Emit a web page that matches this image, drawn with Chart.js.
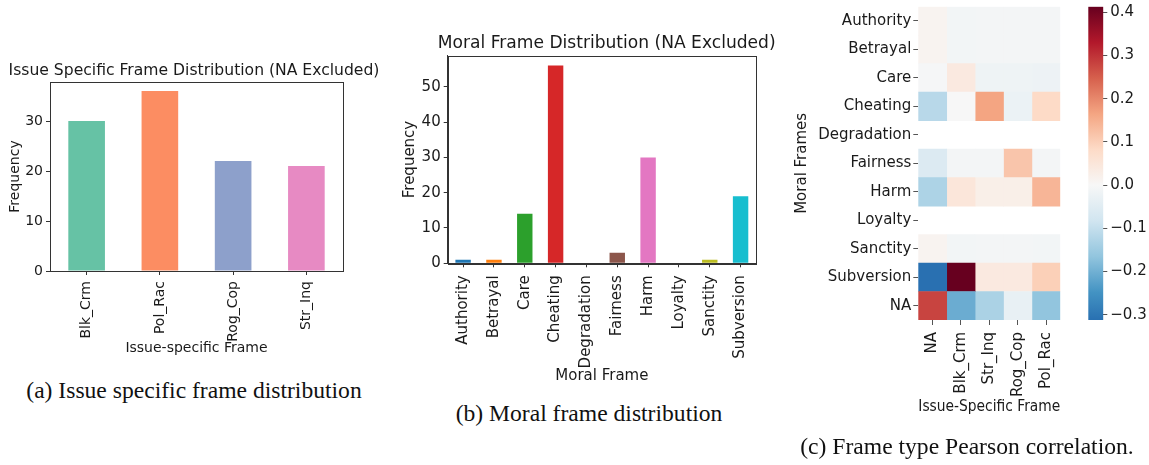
<!DOCTYPE html>
<html>
<head>
<meta charset="utf-8">
<script src="https://cdn.jsdelivr.net/npm/chart.js@4.4.1/dist/chart.umd.min.js"></script>
<style>
body { margin:0; background:#fff; width:1149px; height:465px; position:relative; overflow:hidden; }
canvas { position:absolute; }
.cap { position:absolute; font-family:"Liberation Serif", "Times New Roman", serif; font-size:23.6px; color:#111; white-space:nowrap; transform:translateX(-50%); line-height:26px; }
</style>
</head>
<body>
<canvas id="issueChart" width="388" height="310" style="left:0;top:50px"></canvas>
<canvas id="moralChart" width="433" height="380" style="left:390px;top:20px"></canvas>
<canvas id="corrChart" width="290" height="420" style="left:780px;top:0"></canvas>
<canvas id="cbarChart" width="79" height="420" style="left:1070px;top:0"></canvas>
<div class="cap" style="left:194px;top:377px">(a) Issue specific frame distribution</div>
<div class="cap" style="left:589px;top:400px">(b) Moral frame distribution</div>
<div class="cap" style="left:967px;top:433px">(c) Frame type Pearson correlation.</div>
<script>
// issue specific frames
const issueLabels = ["Blk_Crm", "Pol_Rac", "Rog_Cop", "Str_Inq"]
const issueCounts = [30, 36, 22, 21]
const issueColors = ["#66c2a5", "#fc8d62", "#8da0cb", "#e78ac3"]
const issueTicks = [0, 10, 20, 30]

// moral frames
const moralLabels = ["Authority", "Betrayal", "Care", "Cheating", "Degradation", "Fairness", "Harm", "Loyalty", "Sanctity", "Subversion"]
const moralCounts = [1, 1, 14, 56, 0, 3, 30, 0, 1, 19]
const moralColors = ["#1f77b4", "#ff7f0e", "#2ca02c", "#d62728", "#9467bd", "#8c564b", "#e377c2", "#7f7f7f", "#bcbd22", "#17becf"]
const moralTicks = [0, 10, 20, 30, 40, 50]

// correlation (null = no data)
const corrRows = ["Authority", "Betrayal", "Care", "Cheating", "Degradation", "Fairness", "Harm", "Loyalty", "Sanctity", "Subversion", "NA"]
const corrCols = ["NA", "Blk_Crm", "Str_Inq", "Rog_Cop", "Pol_Rac"]
const corrValues = [
    [0.012, -0.010, -0.008, -0.008, -0.008],
    [0.012, -0.010, -0.008, -0.008, -0.008],
    [-0.005, 0.040, -0.020, -0.020, -0.022],
    [-0.116, 0.000, 0.165, -0.025, 0.083],
    [null, null, null, null, null],
    [-0.058, -0.008, -0.008, 0.116, -0.008],
    [-0.130, 0.050, 0.025, 0.025, 0.140],
    [null, null, null, null, null],
    [0.012, -0.010, -0.008, -0.008, -0.010],
    [-0.312, 0.413, 0.040, 0.040, 0.100],
    [0.280, -0.206, -0.132, -0.033, -0.165]
]
const cbarTicks = [-0.3, -0.2, -0.1, 0.0, 0.1, 0.2, 0.3, 0.4]

// RdBu_r
const rdbu = ["#053061", "#2166ac", "#4393c3", "#92c5de", "#d1e5f0", "#f7f7f7", "#fddbc7", "#f4a582", "#d6604d", "#b2182b", "#67001f"]

Chart.defaults.font.family = "'DejaVu Sans', sans-serif"
Chart.defaults.color = "#1a1a1a"
Chart.defaults.animation = false

const flat = corrValues.flat().filter(v => v !== null)
const vmin = Math.min(...flat)
const vmax = Math.max(...flat)
const vrange = Math.max(Math.abs(vmin), Math.abs(vmax))

function hexRgb(h){
    return [parseInt(h.slice(1,3),16), parseInt(h.slice(3,5),16), parseInt(h.slice(5,7),16)]
}

function cellColor(v){
    if(v === null) return "rgba(0,0,0,0)"
    let t = (v + vrange) / (2 * vrange)
    t = Math.max(0, Math.min(1, t)) * 10
    const i = Math.min(9, Math.floor(t))
    const f = t - i
    const a = hexRgb(rdbu[i]), b = hexRgb(rdbu[i+1])
    const c = a.map((x, k) => Math.round(x + (b[k] - x) * f))
    return "rgb(" + c.join(",") + ")"
}

// box around the plot area
const frame = {
    id: "frame",
    afterDraw(chart){
        const a = chart.chartArea
        const ctx = chart.ctx
        ctx.save()
        ctx.strokeStyle = "#333"
        ctx.lineWidth = 1
        ctx.strokeRect(Math.round(a.left) + 0.5, Math.round(a.top) + 0.5, Math.round(a.right - a.left), Math.round(a.bottom - a.top))
        ctx.restore()
    }
}

// title that is not squeezed to the plot width
const plotTitle = {
    id: "plotTitle",
    afterDraw(chart, args, opts){
        const ctx = chart.ctx
        ctx.save()
        ctx.font = opts.size + "px 'DejaVu Sans', sans-serif"
        ctx.fillStyle = "#1a1a1a"
        ctx.textAlign = "center"
        ctx.textBaseline = "middle"
        ctx.fillText(opts.text, opts.x, opts.y)
        ctx.restore()
    }
}

function createBarChart(id, labels, values, colors, ticks, cfg){

    new Chart(document.getElementById(id), {
        type: "bar",
        data: {
            labels: labels,
            datasets: [{
                data: values,
                backgroundColor: colors,
                barPercentage: 0.5,
                categoryPercentage: 1
            }]
        },
        options: {
            responsive: false,
            layout: { padding: { left: 0, right: cfg.right, top: cfg.top, bottom: 0 } },
            plugins: {
                legend: { display: false },
                tooltip: { enabled: false },
                plotTitle: { text: cfg.title, size: cfg.titleSize, x: cfg.titleX, y: cfg.titleY }
            },
            scales: {
                x: {
                    grid: { offset: false, drawOnChartArea: false, tickLength: 4, tickColor: "#333" },
                    border: { color: "#333" },
                    ticks: { font: { size: cfg.font }, minRotation: 90, maxRotation: 90, autoSkip: false, padding: cfg.tickPad },
                    title: { display: true, text: cfg.xTitle, font: { size: cfg.font }, padding: { top: cfg.xPad, bottom: cfg.xPad } },
                    afterFit: s => { s.height = cfg.xHeight; s.paddingLeft = 0; s.paddingRight = 0 }
                },
                y: {
                    min: 0,
                    max: Math.max(...values) * 1.05,
                    afterBuildTicks: s => { s.ticks = ticks.map(v => ({ value: v })) },
                    grid: { drawOnChartArea: false, tickLength: 4, tickColor: "#333" },
                    border: { color: "#333" },
                    ticks: { font: { size: cfg.font }, padding: 3 },
                    title: { display: true, text: "Frequency", font: { size: cfg.font }, padding: { top: cfg.yPad, bottom: cfg.yPad } },
                    afterFit: s => { s.width = cfg.yWidth; s.paddingTop = 0; s.paddingBottom = 0 }
                }
            }
        },
        plugins: [frame, plotTitle]
    })
}

createBarChart("issueChart", issueLabels, issueCounts, issueColors, issueTicks, {
    title: "Issue Specific Frame Distribution (NA Excluded)", titleSize: 15.6, titleX: 194, titleY: 20.7, top: 32,
    font: 14, xTitle: "Issue-specific Frame", xPad: 3.6, xHeight: 89, yPad: 7.3, yWidth: 50, right: 45, tickPad: 6
})

createBarChart("moralChart", moralLabels, moralCounts, moralColors, moralTicks, {
    title: "Moral Frame Distribution (NA Excluded)", titleSize: 17.1, titleX: 216.7, titleY: 24, top: 35.7,
    font: 15, xTitle: "Moral Frame", xPad: 15, xHeight: 136.7, yPad: 11, yWidth: 57.7, right: 67, tickPad: 8
})

// heatmap: one stacked dataset per column
const heatSets = corrCols.map((col, j) => ({
    label: col,
    data: corrRows.map(() => 1),
    backgroundColor: corrRows.map((r, i) => cellColor(corrValues[i][j])),
    barPercentage: 1,
    categoryPercentage: 1,
    borderWidth: 0
}))

new Chart(document.getElementById("corrChart"), {
    type: "bar",
    data: { labels: corrRows, datasets: heatSets },
    options: {
        responsive: false,
        indexAxis: "y",
        layout: { padding: { left: 0, right: 9.7, top: 6.7, bottom: 0 } },
        plugins: { legend: { display: false }, tooltip: { enabled: false } },
        scales: {
            x: {
                type: "linear",
                stacked: true,
                min: 0,
                max: corrCols.length,
                afterBuildTicks: s => { s.ticks = corrCols.map((c, i) => ({ value: i + 0.5 })) },
                ticks: { callback: (v, i) => corrCols[i], font: { size: 15 }, minRotation: 90, maxRotation: 90, autoSkip: false, padding: 7 },
                grid: { drawOnChartArea: false, tickLength: 5, tickColor: "#555" },
                border: { display: false },
                title: { display: true, text: "Issue-Specific Frame", font: { size: 15 }, padding: { top: 4, bottom: 4 } },
                afterFit: s => { s.height = 100; s.paddingLeft = 0; s.paddingRight = 0 }
            },
            y: {
                stacked: true,
                grid: { offset: false, drawOnChartArea: false, tickLength: 5, tickColor: "#555" },
                border: { display: false },
                ticks: { font: { size: 15 }, padding: 2, autoSkip: false },
                title: { display: true, text: "Moral Frames", font: { size: 15 }, padding: { top: 13.5, bottom: 13.5 } },
                afterFit: s => { s.width = 138.3; s.paddingTop = 0; s.paddingBottom = 0 }
            }
        }
    }
})

function cbarGradient(chart){
    const area = chart.chartArea
    if(!area) return null
    const y = chart.scales.y
    const g = chart.ctx.createLinearGradient(0, y.getPixelForValue(-vrange), 0, y.getPixelForValue(vrange))
    rdbu.forEach((c, i) => g.addColorStop(i / 10, c))
    return g
}

new Chart(document.getElementById("cbarChart"), {
    type: "bar",
    data: {
        labels: [""],
        datasets: [{
            data: [[vmin, vmax]],
            backgroundColor: ctx => cbarGradient(ctx.chart),
            barPercentage: 1,
            categoryPercentage: 1,
            borderWidth: 0
        }]
    },
    options: {
        responsive: false,
        layout: { padding: { left: 18.3, right: 0, top: 6.7, bottom: 100 } },
        plugins: { legend: { display: false }, tooltip: { enabled: false } },
        scales: {
            x: { display: false },
            y: {
                position: "right",
                min: vmin,
                max: vmax,
                afterBuildTicks: s => { s.ticks = cbarTicks.map(v => ({ value: v })) },
                ticks: {
                    font: { size: 15 },
                    padding: 3,
                    callback: v => (Math.abs(v) < 1e-9 ? "0.0" : v.toFixed(1).replace("-", "\u2212"))
                },
                grid: { drawOnChartArea: false, tickLength: 4, tickColor: "#555" },
                border: { display: false },
                afterFit: s => { s.width = 45.7; s.paddingTop = 0; s.paddingBottom = 0 }
            }
        }
    }
})
</script>
</body>
</html>
